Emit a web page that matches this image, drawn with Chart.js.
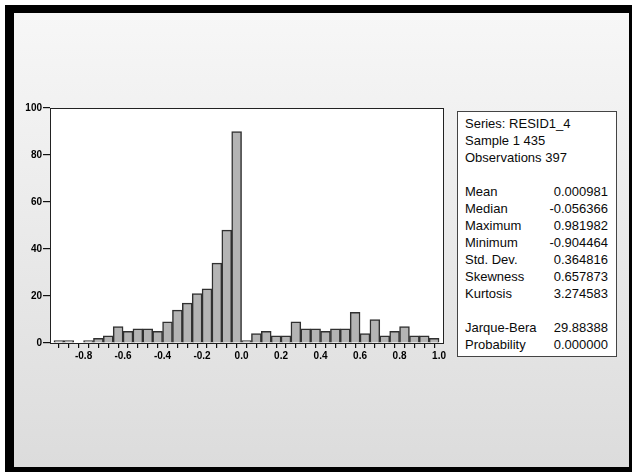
<!DOCTYPE html>
<html lang="en">
<head>
    <meta charset="UTF-8"/>
    <title>Histogram RESID1_4</title>
    <script src="https://cdn.jsdelivr.net/npm/chart.js"></script>
    <style>
        body { margin: 0; background: #fff; width: 632px; height: 472px; overflow: hidden; }
        #frame {
            position: absolute; left: 5px; top: 5px;
            width: 615px; height: 454px;
            border-left: 9px solid #000; border-top: 8px solid #000;
            border-right: 3px solid #000; border-bottom: 5px solid #000;
            background: linear-gradient(#f7f7f7, #dcdcdc);
        }
        #myChart { position: absolute; left: 0; top: 0; }
        #stats {
            position: absolute; left: 457px; top: 111px; width: 143px;
            border: 1px solid #444; background: #fff;
            padding: 3px 8px 3px 7px;
            font: 13px "Liberation Sans", Arial, sans-serif; color: #0a0a0a;
        }
        #stats .row { display: flex; justify-content: space-between; height: 17px; line-height: 17px; white-space: nowrap; }
    </style>
</head>
<body>
    <div id="frame"></div>
    <canvas id="myChart" width="632" height="472"></canvas>
    <div id="stats"></div>
    <script>
        // lower edge of each bin (width 0.05)
        var binEdges = [-0.95, -0.90, -0.85, -0.80, -0.75, -0.70, -0.65, -0.60, -0.55, -0.50,
                        -0.45, -0.40, -0.35, -0.30, -0.25, -0.20, -0.15, -0.10, -0.05, 0.00,
                        0.05, 0.10, 0.15, 0.20, 0.25, 0.30, 0.35, 0.40, 0.45, 0.50,
                        0.55, 0.60, 0.65, 0.70, 0.75, 0.80, 0.85, 0.90, 0.95, 1.00];
        var binWidth = 0.05;
        var counts = [1, 1, 0, 1, 2, 3, 7, 5, 6, 6,
                      5, 9, 14, 17, 21, 23, 34, 48, 90, 1,
                      4, 5, 3, 3, 9, 6, 6, 5, 6, 6,
                      13, 4, 10, 3, 5, 7, 3, 3, 2];
        var xTickLabels = ['-0.8', '-0.6', '-0.4', '-0.2', '0.0', '0.2', '0.4', '0.6', '0.8', '1.0'];
        var yTicks = [0, 20, 40, 60, 80, 100];

        var statsHeader = ['Series: RESID1_4', 'Sample 1 435', 'Observations 397'];
        var statNames = ['Mean', 'Median', 'Maximum', 'Minimum', 'Std. Dev.', 'Skewness', 'Kurtosis'];
        var statValues = ['0.000981', '-0.056366', '0.981982', '-0.904464', '0.364816', '0.657873', '3.274583'];
        var testNames = ['Jarque-Bera', 'Probability'];
        var testValues = ['29.88388', '0.000000'];

        // stats panel
        var stats = document.getElementById('stats');
        function addRow(a, b) {
            var row = document.createElement('div');
            row.className = 'row';
            var l = document.createElement('span'); l.textContent = a;
            var r = document.createElement('span'); r.textContent = b;
            row.appendChild(l); row.appendChild(r);
            stats.appendChild(row);
        }
        statsHeader.forEach(function (t) { addRow(t, ''); });
        addRow('', '');
        statNames.forEach(function (t, i) { addRow(t, statValues[i]); });
        addRow('', '');
        testNames.forEach(function (t, i) { addRow(t, testValues[i]); });

        var points = counts.map(function (c, i) {
            return { x: binEdges[i] + binWidth / 2, y: c };
        });

        var plotFrame = {
            id: 'plotFrame',
            beforeDraw: function (chart) {
                var a = chart.chartArea, ctx = chart.ctx;
                ctx.save();
                ctx.fillStyle = '#ffffff';
                ctx.fillRect(a.left, a.top, a.right - a.left, a.bottom - a.top);
                ctx.restore();
            },
            afterDraw: function (chart) {
                var a = chart.chartArea, ctx = chart.ctx;
                ctx.save();
                ctx.strokeStyle = '#222';
                ctx.lineWidth = 1;
                ctx.strokeRect(a.left + 0.5, a.top + 0.5, a.right - a.left, a.bottom - a.top);
                ctx.restore();
            }
        };

        var ctx = document.getElementById('myChart').getContext('2d');
        var myChart = new Chart(ctx, {
            type: 'bar',
            data: {
                datasets: [{
                    data: points,
                    backgroundColor: '#b4b4b4',
                    borderColor: '#303030',
                    borderWidth: 1.5,
                    borderSkipped: 'start',
                    barPercentage: 1,
                    categoryPercentage: 1
                }]
            },
            plugins: [plotFrame],
            options: {
                responsive: false,
                animation: false,
                layout: { padding: { left: 0, top: 108, right: 189, bottom: 109 } },
                plugins: { legend: { display: false }, tooltip: { enabled: false } },
                scales: {
                    x: {
                        type: 'linear',
                        offset: false,
                        min: -0.97,
                        max: 1.02,
                        afterFit: function (scale) { scale.height = 20; },
                        afterBuildTicks: function (scale) {
                            scale.ticks = binEdges.map(function (v) { return { value: v }; });
                        },
                        grid: { display: true, drawOnChartArea: false, drawTicks: true, tickLength: 5, color: '#111', lineWidth: 1.2 },
                        border: { display: true, color: '#111', width: 1 },
                        ticks: {
                            autoSkip: false,
                            maxRotation: 0,
                            padding: 2,
                            color: '#000',
                            font: { family: 'Liberation Sans', size: 10, weight: 'bold' },
                            callback: function (value) {
                                var s = (Math.round(value * 100) / 100).toFixed(1);
                                if (Math.abs(value * 10 - Math.round(value * 10)) > 1e-6) return '';
                                return xTickLabels.indexOf(s) >= 0 ? s : '';
                            }
                        }
                    },
                    y: {
                        min: 0,
                        max: 100,
                        afterFit: function (scale) { scale.width = 50; },
                        afterBuildTicks: function (scale) {
                            scale.ticks = yTicks.map(function (v) { return { value: v }; });
                        },
                        grid: { display: true, drawOnChartArea: false, drawTicks: true, tickLength: 7, color: '#111', lineWidth: 1.2 },
                        border: { display: true, color: '#111', width: 1 },
                        ticks: {
                            padding: 1,
                            color: '#000',
                            font: { family: 'Liberation Sans', size: 10, weight: 'bold' }
                        }
                    }
                }
            }
        });
    </script>
</body>
</html>
